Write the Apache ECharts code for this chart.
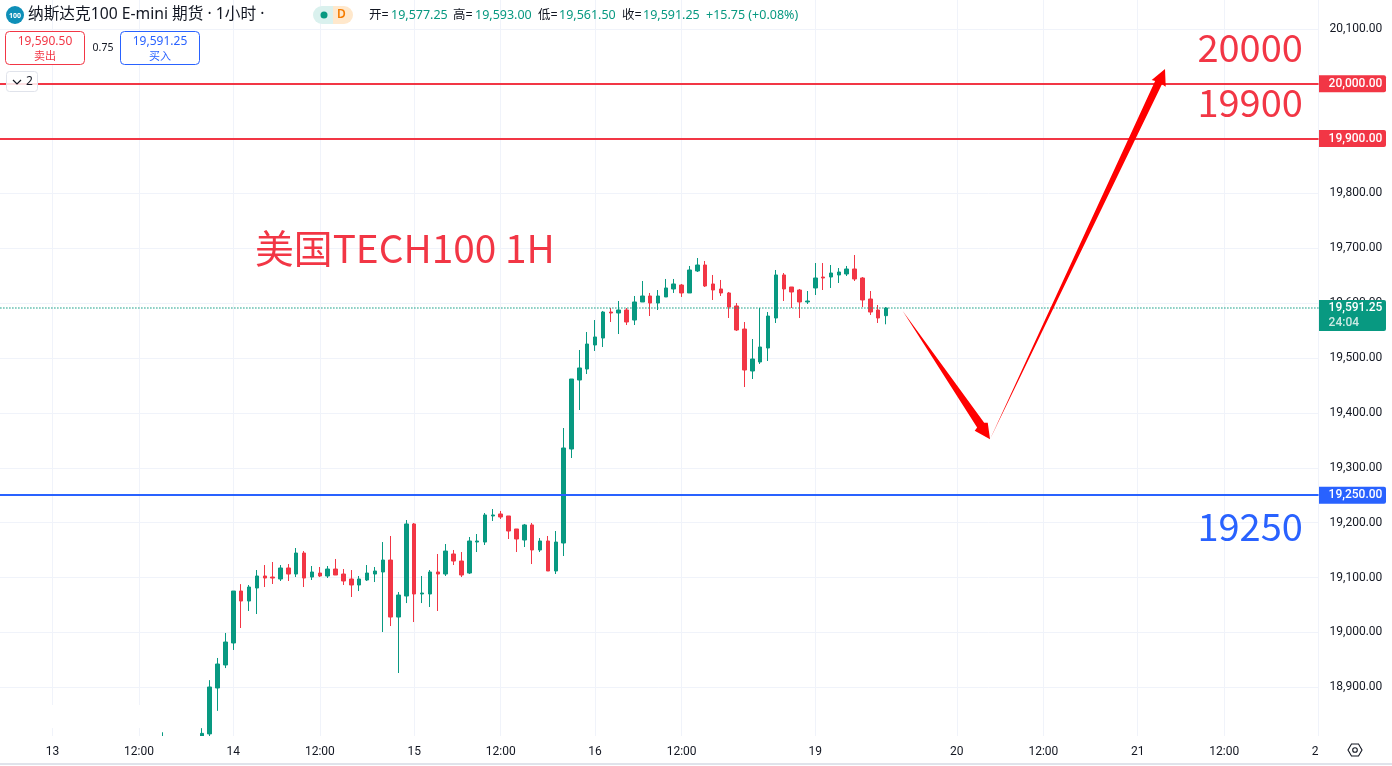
<!DOCTYPE html>
<html><head><meta charset="utf-8">
<style>html,body{margin:0;padding:0;background:#fff}#c{width:1392px;height:766px}</style>
<script src="https://cdn.jsdelivr.net/npm/echarts@6/dist/echarts.min.js"></script>
</head><body><div id="c"></div>
<script>
// first drawn bar sits at this slot of the time axis
const firstBar = 21;
const slotCount = 169;
const tickSlots  = [7, 18, 30, 41, 53, 64, 76, 87, 104, 122, 133, 145, 156, 168];
const tickLabels = ['13','12:00','14','12:00','15','12:00','16','12:00','19','20','12:00','21','12:00','2'];
const priceTicks = [18900,19000,19100,19200,19300,19400,19500,19600,19700,19800,19900,20000,20100];

const opens = [18790,null,null,null,null,18795,18815,18898.7,18940.6,18980.7,19075.4,19057.2,19080.9,19102.8,19100.9,19097.3,19117.4,19106.4,19144.7,19100.9,19108.2,19102.8,19115.5,19106.4,19097.3,19086.4,19095.5,19106.4,19110.1,19131.9,19028,19066.3,19197.6,19070,19070,19110.1,19106.4,19142.9,19130.1,19108.2,19164.7,19164.7,19212.2,19215.8,19212.2,19188.5,19168.4,19195.8,19150.2,19166.6,19111.9,19162.9,19334.2,19460,19480,19523.8,19536.5,19583.9,19582.1,19587.6,19569.3,19602.2,19613.1,19600.3,19611.3,19625.9,19633.1,19618.6,19658.7,19669.6,19635,19625.9,19618.6,19594.9,19552.9,19476.4,19492.8,19518.3,19573,19651.4,19629.5,19624,19602.2,19627.7,19647.7,19647.7,19651.4,19653.2,19662.3,19645.9,19607.6,19587.6,19577.25];
const closes = [18795,null,null,null,null,18816,18900.5,18942.4,18982.5,19075.4,19057.2,19082.7,19102.8,19099.1,19099.1,19117.4,19106.4,19144.7,19099.1,19110.1,19102.8,19115.5,19104.6,19093.7,19086.4,19097.3,19108.2,19111.9,19131.9,19028,19068.1,19197.6,19070,19071.8,19110.1,19106.4,19148.3,19130.1,19104.6,19166.6,19166.6,19214,19214,19210.3,19184.8,19170.2,19195.8,19150.2,19166.6,19111.9,19164.7,19336.1,19461.8,19481.9,19525.6,19538.4,19583.9,19582.1,19587.6,19565.7,19602.2,19613.1,19600.3,19613.1,19627.7,19635,19618.6,19660.5,19669.6,19631.3,19624,19618.6,19593,19551.1,19478.2,19498.3,19520.1,19576.6,19651.4,19625.9,19620.4,19602.2,19604,19645.9,19645.9,19655,19656.8,19662.3,19644.1,19605.8,19583.9,19573,19591.25];
const lows   = [18780,null,null,null,null,18790,18805,18857,18935,18968,19008,19039,19033.5,19082.7,19088.2,19093.7,19093.7,19100.9,19082.7,19095.5,19100.9,19099.1,19104.6,19086.4,19064.5,19075.4,19093.7,19091.8,19000.7,19011.6,18926,19053.5,19018.9,19053.5,19046.3,19039,19102.8,19122.8,19100.9,19106.4,19146.5,19159.3,19203,19206.7,19170.2,19146.5,19155.6,19124.6,19146.5,19111.9,19106.4,19139.2,19317.8,19405.3,19470.9,19512.9,19520.1,19565.7,19543.8,19560.2,19560.2,19602.2,19576.6,19587.6,19611.3,19618.6,19611.3,19618.6,19656.8,19629.5,19605.8,19613.1,19573,19549.3,19447.2,19461.8,19489.2,19494.6,19563.9,19604,19591.2,19573,19598.5,19614.9,19624,19627.7,19636.8,19649.5,19640.4,19593,19578.5,19563.9,19561.5];
const highs  = [18818,null,null,null,null,18825.5,18913,18953.4,18999,19075.4,19088,19086.4,19113.7,19122.8,19128.3,19122.8,19124.6,19153.8,19148.3,19121,19119.2,19121,19133.8,19115.5,19113.7,19102.8,19122.8,19119.2,19164.7,19175.7,19073.6,19204.8,19199.4,19102.8,19113.7,19142.9,19161.1,19150.2,19146.5,19173.9,19179.3,19217.6,19224.9,19221.3,19212.2,19188.5,19197.6,19199.4,19172,19175.7,19184.8,19372.5,19461.8,19514.7,19547.5,19569.3,19585.8,19591.2,19604,19591.2,19613.1,19640.4,19618.6,19624,19644.1,19644.1,19635,19667.8,19682.3,19676.9,19651.4,19642.3,19620.4,19600.3,19565.7,19534.7,19591.2,19583.9,19660.5,19655,19629.5,19625.9,19622.2,19673.2,19673.2,19669.6,19664.1,19667.8,19687.8,19647.7,19622.2,19596.7,19593];

const redLevels  = [20000, 19900];
const blueLevels = [19250];
const lastPrice  = 19591.25;
const countdown  = '24:04';

// arrow outlines as [bar slot, price]
const arrowDown = [[115.12,19585.7],[125.48,19382.3],[125.93,19382.2],[126.22,19351.9],[124.27,19367.6],[124.58,19373.6]];
const arrowUp   = [[126.22,19351.9],[148.08,19999.2],[148.56,19994.5],[148.47,20026.8],[146.78,20006.7],[147.21,20005.1]];

// text notes as [bar slot, price, text, colour key]
const notes = [
  [166.0, 20065, '20000', 'red', 'right', 38],
  [166.0, 19964.8, '19900', 'red', 'right', 38],
  [166.0, 19192.0, '19250', 'blue', 'right', 38],
  [32.76, 19700.6, '美国TECH100 1H', 'red', 'left', 38.8]
];

const RED = '#F23645', GREEN = '#089981', BLUE = '#2962FF', INK = '#131722', GRID = '#f0f3fa';
const COLORS = {red: RED, blue: BLUE, green: GREEN};
const LATIN = '"Noto Sans","Noto Sans CJK SC",sans-serif';
const CJK = '"Noto Sans CJK SC",sans-serif';
const SCALE = 'Roboto,"Noto Sans",sans-serif';

const categories = new Array(slotCount).fill('');
tickSlots.forEach((s, i) => { categories[s] = tickLabels[i]; });
const fmt = v => Number(v).toLocaleString('en-US', {minimumFractionDigits: 2, maximumFractionDigits: 2});

const candleData = new Array(firstBar).fill('-');
opens.forEach((o, i) => {
  candleData.push(o == null ? '-' : [o, closes[i], lows[i], highs[i]]);
});

const isTick = (i, v) => v !== '';

const tags = redLevels.map(p => [p, fmt(p), RED])
  .concat(blueLevels.map(p => [p, fmt(p), BLUE]));

const t = (x, y, text, fill, size, extra) => ({
  type: 'text', z: 20, x, y,
  style: Object.assign({text, fill, font: size + 'px ' + LATIN, textVerticalAlign: 'middle'}, extra || {})
});

const chrome = [
  {type:'rect', z:1, shape:{x:0,y:705,width:200,height:23}, style:{fill:'#fff'}},
  {type:'rect', z:5, shape:{x:0,y:736,width:1318,height:27}, style:{fill:'#fff'}},
  {type:'line', z:20, shape:{x1:0,y1:764,x2:1392,y2:764}, style:{stroke:'#e0e3eb',lineWidth:2}},
  // symbol title
  {type:'circle', z:20, shape:{cx:15,cy:15,r:9}, style:{fill:'#0f8fb8'}},
  t(15,15.5,'100','#fff',7,{textAlign:'center',font:'bold 7px '+LATIN}),
  t(28,15,'纳斯达克100 E-mini 期货 · 1小时 ·',INK,15.7),
  // status pill
  {type:'rect', z:20, shape:{x:313,y:6,width:20,height:18,r:[9,0,0,9]}, style:{fill:'#daf1ee'}},
  {type:'rect', z:20, shape:{x:333,y:6,width:20,height:18,r:[0,9,9,0]}, style:{fill:'#ffe8cc'}},
  {type:'circle', z:20, shape:{cx:324,cy:15,r:3.5}, style:{fill:GREEN}},
  t(341.5,15,'D','#f57c00',12,{textAlign:'center',font:'600 12px '+LATIN}),
  // OHLC legend
  t(369,15,'开=',INK,12.5), t(391,15,'19,577.25',GREEN,12.5),
  t(453,15,'高=',INK,12.5), t(475,15,'19,593.00',GREEN,12.5),
  t(538,15,'低=',INK,12.5), t(559,15,'19,561.50',GREEN,12.5),
  t(622,15,'收=',INK,12.5), t(643,15,'19,591.25',GREEN,12.5),
  t(706,15,'+15.75 (+0.08%)',GREEN,12.5),
  // sell / buy
  {type:'rect', z:20, shape:{x:5.5,y:31.5,width:79,height:33,r:4}, style:{fill:'#fff',stroke:RED,lineWidth:1}},
  t(45,41.5,'19,590.50',RED,12,{textAlign:'center'}),
  t(45,56.5,'卖出',RED,11,{textAlign:'center'}),
  t(103,48,'0.75',INK,10.5,{textAlign:'center'}),
  {type:'rect', z:20, shape:{x:120.5,y:31.5,width:79,height:33,r:4}, style:{fill:'#fff',stroke:BLUE,lineWidth:1}},
  t(160,41.5,'19,591.25',BLUE,12,{textAlign:'center'}),
  t(160,56.5,'买入',BLUE,11,{textAlign:'center'}),
  // collapse button
  {type:'rect', z:20, shape:{x:6.5,y:71.5,width:31,height:20,r:3}, style:{fill:'rgba(255,255,255,0.85)',stroke:'#e0e3eb',lineWidth:1}},
  {type:'polyline', z:21, shape:{points:[[13,80],[17,84],[21,80]]}, style:{fill:'none',stroke:INK,lineWidth:1.2}},
  t(29.5,82,'2',INK,12,{textAlign:'center'}),
  // settings gear
  {type:'polygon', z:20, shape:{points:[[1348,750],[1351.5,744],[1358.5,744],[1362,750],[1358.5,756],[1351.5,756]]}, style:{fill:'none',stroke:INK,lineWidth:1.1}},
  {type:'circle', z:20, shape:{cx:1355,cy:750,r:2.3}, style:{fill:'none',stroke:INK,lineWidth:1.1}}
];

const chart = echarts.init(document.getElementById('c'), null, {renderer:'canvas', width:1392, height:766});
chart.setOption({
  animation: false,
  backgroundColor: '#fff',
  textStyle: {fontFamily: LATIN},
  grid: {left:-2.6, top:0, width:1321.2, height:736, containLabel:false, outerBoundsMode:'none'},
  xAxis: [{
    type:'category', data:categories, boundaryGap:false,
    axisLine:{show:false}, axisTick:{show:false}, axisLabel:{show:false},
    splitLine:{show:true, interval:isTick, lineStyle:{color:GRID, width:1}}
  },{
    type:'value', min:0, max:slotCount-1, show:false, position:'top', splitLine:{show:false}
  },{
    type:'category', data:categories, boundaryGap:false, position:'bottom', z:10,
    axisLine:{show:false}, axisTick:{show:false}, splitLine:{show:false},
    axisLabel:{show:true, interval:isTick, color:INK, fontSize:12, fontFamily:SCALE, margin:10, alignMaxLabel:'right', hideOverlap:false}
  }],
  yAxis: [{
    type:'value', position:'right', min:18811.2, max:20152.54,
    axisLine:{show:false},
    axisTick:{show:false, customValues:priceTicks},
    axisLabel:{color:INK, fontSize:12, fontFamily:SCALE, margin:11, customValues:priceTicks, formatter:v=>fmt(v), showMinLabel:true, showMaxLabel:true},
    splitLine:{show:true, lineStyle:{color:GRID, width:1}}
  }],
  graphic: chrome,
  series: [
    {
      type:'candlestick', name:'NQ', xAxisIndex:0, yAxisIndex:0, z:3, barWidth:4, clip:true,
      data:candleData,
      itemStyle:{color:GREEN, color0:RED, borderColor:GREEN, borderColor0:RED, borderWidth:1},
      markLine:{
        silent:true, symbol:'none', z:4, animation:false, label:{show:false},
        data: redLevels.map(p=>({yAxis:p, lineStyle:{color:RED,width:2,type:'solid'}}))
          .concat(blueLevels.map(p=>({yAxis:p, lineStyle:{color:BLUE,width:2,type:'solid'}})))
          .concat([{yAxis:lastPrice, lineStyle:{color:GREEN,width:1.6,type:[1,2]}}])
      }
    },
    {
      type:'custom', name:'arrows', xAxisIndex:1, yAxisIndex:0, z:6, silent:true,
      data:[[0],[1]], encode:{x:-1,y:-1},
      renderItem:(p,api)=>{
        const pts=[arrowDown,arrowUp][p.dataIndex].map(q=>api.coord(q));
        return {type:'polygon', shape:{points:pts}, style:{fill:'#ff0000'}};
      }
    },
    {
      type:'custom', name:'notes', xAxisIndex:1, yAxisIndex:0, z:6, silent:true,
      data:notes.map((n,i)=>[i]), encode:{x:-1,y:-1},
      renderItem:(p,api)=>{
        const n=notes[p.dataIndex], c=api.coord([n[0],n[1]]);
        return {type:'text', x:c[0], y:c[1], style:{text:n[2], fill:COLORS[n[3]], font:n[5]+'px '+CJK, textAlign:n[4], textVerticalAlign:'middle'}};
      }
    },
    {
      type:'custom', name:'tags', xAxisIndex:1, yAxisIndex:0, z:7, silent:true,
      data:tags.map((n,i)=>[i]), encode:{x:-1,y:-1},
      renderItem:(p,api)=>{
        const n=tags[p.dataIndex], c=api.coord([slotCount-1,n[0]]);
        return {type:'group', children:[
          {type:'rect', shape:{x:c[0]+0.4,y:c[1]-8.5,width:67,height:17,r:[0,2,2,0]}, style:{fill:n[2]}},
          {type:'text', x:c[0]+10,y:c[1], style:{text:n[1],fill:'#fff',font:'500 12px '+SCALE,textVerticalAlign:'middle'}}
        ]};
      }
    },
    {
      type:'custom', name:'lastTag', xAxisIndex:1, yAxisIndex:0, z:7, silent:true,
      data:[[0]], encode:{x:-1,y:-1},
      renderItem:(p,api)=>{
        const c=api.coord([slotCount-1,lastPrice]);
        return {type:'group', children:[
          {type:'rect', shape:{x:c[0]+0.4,y:c[1]-8,width:67,height:31,r:[0,2,2,0]}, style:{fill:GREEN}},
          {type:'text', x:c[0]+10,y:c[1], style:{text:fmt(lastPrice),fill:'#fff',font:'500 12px '+SCALE,textVerticalAlign:'middle'}},
          {type:'text', x:c[0]+10,y:c[1]+15, style:{text:countdown,fill:'#cdeae4',font:'500 12px '+SCALE,textVerticalAlign:'middle'}}
        ]};
      }
    }
  ]
});
</script></body></html>
